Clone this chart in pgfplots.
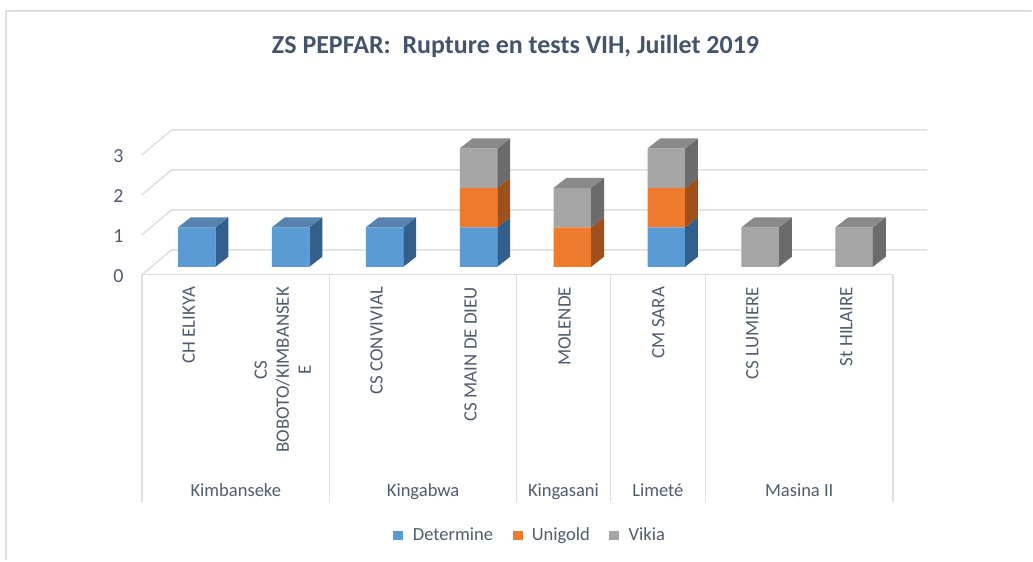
\documentclass[border=0pt]{standalone}
\usepackage{pgfplots}
\pgfplotsset{compat=1.18}
\usepackage{fontspec}
\setmainfont{Carlito}

\definecolor{titlec}{HTML}{44546A}
\definecolor{labelc}{HTML}{4F5B6E}
\definecolor{gridc}{HTML}{DCDEE2}
\definecolor{framec}{HTML}{DADEE5}
\definecolor{bluef}{HTML}{5B9BD5}
\definecolor{blues}{HTML}{325F8C}
\definecolor{bluet}{HTML}{5783B0}
\definecolor{orangef}{HTML}{EE7B2E}
\definecolor{oranges}{HTML}{A0501C}
\definecolor{grayf}{HTML}{A5A5A5}
\definecolor{grays}{HTML}{6B6B6B}
\definecolor{grayt}{HTML}{8A8A8A}

% side face of a segment: bar index, bottom, top, colour
\newcommand\sideface[4]{%
  \pgfmathsetmacro\xa{#1+0.2}\pgfmathsetmacro\xb{#1+0.3362}%
  \pgfmathsetmacro\ya{#2+0.253}\pgfmathsetmacro\yb{#3+0.253}%
  \edef\tmp{\noexpand\addplot[fill=#4,draw=none] coordinates
    {(\xa,#2) (\xb,\ya) (\xb,\yb) (\xa,#3)} --cycle;}\tmp}
% top face of a stack: bar index, height, colour
\newcommand\topface[3]{%
  \pgfmathsetmacro\xa{#1-0.2}\pgfmathsetmacro\xb{#1+0.2}%
  \pgfmathsetmacro\xc{#1+0.3362}\pgfmathsetmacro\xd{#1-0.0638}%
  \pgfmathsetmacro\ya{#2+0.253}%
  \edef\tmp{\noexpand\addplot[fill=#3,draw=none] coordinates
    {(\xa,#2) (\xb,#2) (\xc,\ya) (\xd,\ya)} --cycle;}\tmp}

\pgfplotsset{base/.style={hide axis, clip=false, anchor=origin,
  at={(147.75pt,-200.25pt)}, x=70.5pt, y=29.625pt,
  xmin=-0.8, xmax=7.8, ymin=-0.5, ymax=3.5}}

\begin{document}
\begin{tikzpicture}
\begin{scope}[x=0.75pt,y=-0.75pt]
  \path (0,0) rectangle (1033,561);
  \draw[framec, line width=1.5pt] (6,561) -- (6,11) -- (1033,11);
  % walls and floor
  \foreach \k in {0,1,2,3}
    \draw[gridc, line width=1.1pt] (142,{275-40*\k}) -- (172,{250-40*\k}) -- (928,{250-40*\k});
  \draw[gridc, line width=1.1pt] (142,275) -- (894,275);
  \foreach \x in {142,330,517,611,706,894}
    \draw[gridc, line width=1.1pt] (\x,275) -- (\x,502);
\end{scope}

\begin{axis}[base, ybar stacked, bar width=0.4]
\addplot[fill=bluef, draw=none] coordinates {(0,1) (1,1) (2,1) (3,1) (4,0) (5,1) (6,0) (7,0)};
\addplot[fill=orangef, draw=none] coordinates {(0,0) (1,0) (2,0) (3,1) (4,1) (5,1) (6,0) (7,0)};
\addplot[fill=grayf, draw=none] coordinates {(0,0) (1,0) (2,0) (3,1) (4,1) (5,1) (6,1) (7,1)};
\end{axis}

\begin{axis}[base]
% Determine
\sideface{0}{0}{1}{blues}\sideface{1}{0}{1}{blues}\sideface{2}{0}{1}{blues}
\sideface{3}{0}{1}{blues}\sideface{5}{0}{1}{blues}
\topface{0}{1}{bluet}\topface{1}{1}{bluet}\topface{2}{1}{bluet}
% Unigold
\sideface{3}{1}{2}{oranges}\sideface{4}{0}{1}{oranges}\sideface{5}{1}{2}{oranges}
% Vikia
\sideface{3}{2}{3}{grays}\sideface{4}{1}{2}{grays}\sideface{5}{2}{3}{grays}
\sideface{6}{0}{1}{grays}\sideface{7}{0}{1}{grays}
\topface{3}{3}{grayt}\topface{4}{2}{grayt}\topface{5}{3}{grayt}
\topface{6}{1}{grayt}\topface{7}{1}{grayt}
\end{axis}

\begin{scope}[x=0.75pt,y=-0.75pt]
  \node[anchor=base, text=titlec, font=\fontsize{19.5}{23}\selectfont\bfseries]
    at (516,54) {ZS PEPFAR:\ \ Rupture en tests VIH, Juillet 2019};
  \foreach \k in {0,1,2,3}
    \node[anchor=east, inner sep=0pt, text=labelc, font=\fontsize{15}{18}\selectfont]
      at (124,{276-40*\k}) {\k};
  \tikzset{bl/.style={rotate=90, anchor=east, inner sep=0pt, align=center,
    text=labelc, font=\fontsize{14.2}{16.5}\selectfont}}
  \node[bl] at (189,287) {CH ELIKYA};
  \node[bl] at (283,287) {CS\\BOBOTO/KIMBANSEK\\E};
  \node[bl] at (377,287) {CS CONVIVIAL};
  \node[bl] at (471,287) {CS MAIN DE DIEU};
  \node[bl] at (565,287) {MOLENDE};
  \node[bl] at (659,287) {CM SARA};
  \node[bl] at (753,287) {CS LUMIERE};
  \node[bl] at (847,287) {St HILAIRE};
  \tikzset{gl/.style={anchor=base, inner sep=0pt, text=labelc, font=\fontsize{13.9}{16.5}\selectfont}}
  \node[gl] at (236,497) {Kimbanseke};
  \node[gl] at (423.5,497) {Kingabwa};
  \node[gl] at (564,497) {Kingasani};
  \node[gl] at (658.5,497) {Limeté};
  \node[gl] at (800,497) {Masina II};
  % legend
  \fill[bluef] (393,531) rectangle (403,541);
  \node[anchor=base west, inner sep=0pt, text=labelc, font=\fontsize{13.9}{16.5}\selectfont] at (413,541) {Determine};
  \fill[orangef] (513,531) rectangle (523,541);
  \node[anchor=base west, inner sep=0pt, text=labelc, font=\fontsize{13.9}{16.5}\selectfont] at (532,541) {Unigold};
  \fill[grayf] (610,531) rectangle (620,541);
  \node[anchor=base west, inner sep=0pt, text=labelc, font=\fontsize{13.9}{16.5}\selectfont] at (629,541) {Vikia};
\end{scope}
\end{tikzpicture}
\end{document}
